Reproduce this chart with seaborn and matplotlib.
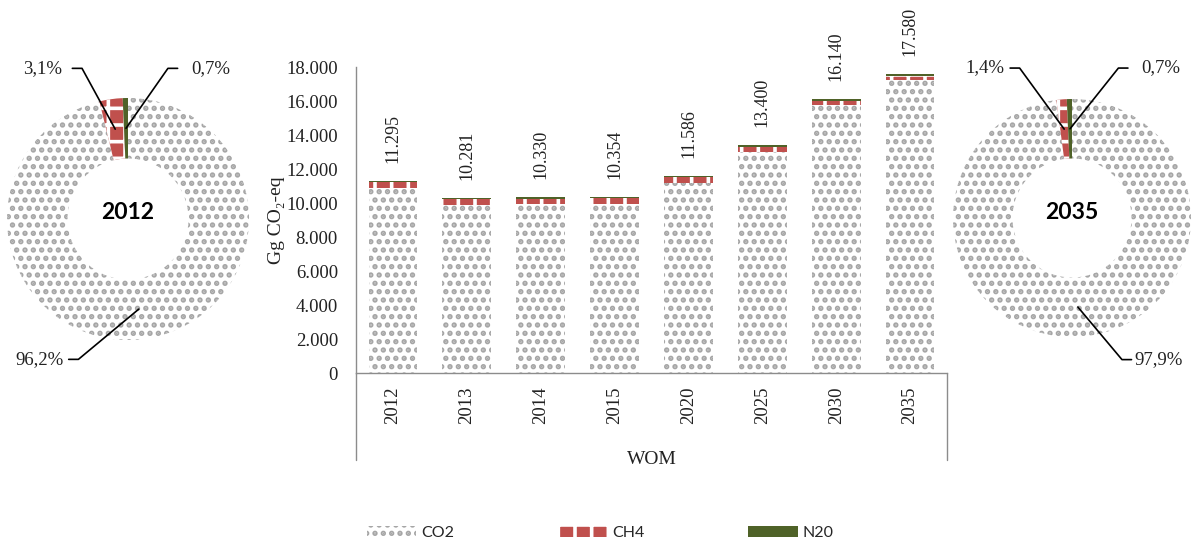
import matplotlib
matplotlib.use('Agg')

import numpy as np
import pandas as pd
import seaborn as sns
import matplotlib.pyplot as plt
import matplotlib.patches as mpatches

# data
years = ['2012', '2013', '2014', '2015', '2020', '2025', '2030', '2035']
totals = [11295, 10281, 10330, 10354, 11586, 13400, 16140, 17580]
ch4 = [350, 345, 340, 335, 310, 290, 275, 246]
n2o = [79, 72, 72, 72, 81, 94, 113, 123]
co2 = [t - c - n for t, c, n in zip(totals, ch4, n2o)]

gases = ['CO2', 'CH4', 'N20']
share_2012 = [96.2, 3.1, 0.7]
share_2035 = [97.9, 1.4, 0.7]

serif = ['Liberation Serif', 'DejaVu Serif']
sans = ['Lato', 'DejaVu Sans']
GRAY = '#a6a6a6'
RED = '#c0504d'
GREEN = '#4f6228'
DOTS = '..'

sns.set_theme(style='white')
plt.rcParams['font.family'] = serif
plt.rcParams['hatch.linewidth'] = 2.6

df = pd.DataFrame({'year': years, 'co2': co2,
                   'co2_ch4': np.array(co2) + np.array(ch4),
                   'total': totals})

W, H = 1195, 544
fig = plt.figure(figsize=(W / 100, H / 100), dpi=100)
ax = fig.add_axes([356 / W, (H - 373) / H, 591 / W, 306 / H])

# stacked bars drawn as overlapping cumulative bars
bw = 0.66
sns.barplot(data=df, x='year', y='total', ax=ax, color=GREEN, saturation=1,
            width=bw, errorbar=None, linewidth=0)
n_prev = len(ax.patches)
sns.barplot(data=df, x='year', y='co2_ch4', ax=ax, color=RED, saturation=1,
            width=bw, errorbar=None, linewidth=0)
for p in ax.patches[n_prev:]:
    p.set_facecolor(RED)
    p.set_edgecolor('white')
    p.set_hatch('+')
    p.set_linewidth(0)
n_prev = len(ax.patches)
sns.barplot(data=df, x='year', y='co2', ax=ax, color='white', saturation=1,
            width=bw, errorbar=None, linewidth=0)
for p in ax.patches[n_prev:]:
    p.set_facecolor('white')
    p.set_edgecolor(GRAY)
    p.set_hatch(DOTS)
    p.set_linewidth(0)

for i, t in enumerate(totals):
    ax.annotate(f'{t:,}'.replace(',', '.'), (i, t), xytext=(0, 13),
                textcoords='offset points', rotation=90, ha='center',
                va='bottom', fontsize=13, color='#222222')

ax.set_ylim(0, 18000)
ax.set_xlim(-0.5, len(years) - 0.5)
ax.set_yticks(range(0, 18001, 2000))
ax.set_yticklabels([f'{v:,}'.replace(',', '.') for v in range(0, 18001, 2000)])
ax.tick_params(axis='y', length=0, pad=13, labelsize=13.5, labelcolor='#222222')
ax.tick_params(axis='x', length=0, pad=10, labelsize=13.5, labelcolor='#222222',
               labelrotation=90)
ax.set_xlabel('WOM', fontsize=14, labelpad=10, color='#222222')
ax.set_ylabel('Gg CO₂-eq', fontsize=14, labelpad=8, color='#222222')
ax.yaxis.set_label_coords(-0.12, 0.5)
ax.xaxis.set_label_coords(0.5, -0.255)
sns.despine(ax=ax, top=True, right=True)
for s in ['left', 'bottom']:
    ax.spines[s].set_color('#8c8c8c')
    ax.spines[s].set_linewidth(1)
# category group box lines below the axis
for xx in [0, 1]:
    ax.plot([xx, xx], [0, -0.284], transform=ax.transAxes, color='#8c8c8c',
            lw=1, clip_on=False)


def donut(rect, shares, title, labels):
    dax = fig.add_axes(rect)
    wedges, _ = dax.pie(shares, startangle=90, counterclock=False, radius=1,
                        wedgeprops=dict(width=0.5, linewidth=0))
    wedges[0].set_facecolor('white')
    wedges[0].set_edgecolor(GRAY)
    wedges[0].set_hatch(DOTS)
    wedges[1].set_facecolor(RED)
    wedges[1].set_edgecolor('white')
    wedges[1].set_hatch('+')
    wedges[2].set_facecolor(GREEN)
    dax.set_xlim(-1, 1)
    dax.set_ylim(-1, 1)
    dax.set_aspect('equal')
    dax.axis('off')
    dax.text(0, 0.05, title, ha='center', va='center', fontsize=16.5,
             fontweight='bold', family=sans, color='black')
    for w, v, (tx, ty, ex) in zip(wedges, shares, labels):
        ang = np.deg2rad((w.theta1 + w.theta2) / 2)
        px, py = 0.75 * np.cos(ang), 0.75 * np.sin(ang)
        ex2 = ex - 0.08 if tx < ex else ex + 0.08
        dax.plot([px, ex, ex2], [py, ty, ty], color='black', lw=1.2,
                 clip_on=False)
        dax.text(tx, ty, f'{v:.1f}%'.replace('.', ','), ha='center',
                 va='center', fontsize=13.5, color='#222222', clip_on=False)


donut([(128 - 121) / W, (H - 340) / H, 242 / W, 242 / H], share_2012, '2012',
      [(-0.73, -1.16, -0.41), (-0.71, 1.245, -0.38), (0.68, 1.245, 0.33)])
donut([(1072 - 119) / W, (H - 337) / H, 238 / W, 238 / H], share_2035, '2035',
      [(0.73, -1.19, 0.42), (-0.73, 1.26, -0.44), (0.75, 1.26, 0.39)])

# legend
handles = [
    mpatches.Patch(facecolor='white', edgecolor=GRAY, hatch=DOTS, linewidth=0, label=gases[0]),
    mpatches.Patch(facecolor=RED, edgecolor='white', hatch='+', linewidth=0, label=gases[1]),
    mpatches.Patch(facecolor=GREEN, linewidth=0, label=gases[2]),
]
fig.legend(handles=handles, loc='center', bbox_to_anchor=(600 / W, 11 / H),
           ncol=3, frameon=False, handlelength=3.1, handleheight=0.7,
           columnspacing=6.5, handletextpad=0.3,
           prop={'family': sans, 'size': 11.5})

fig.savefig('out.png', dpi=100)
